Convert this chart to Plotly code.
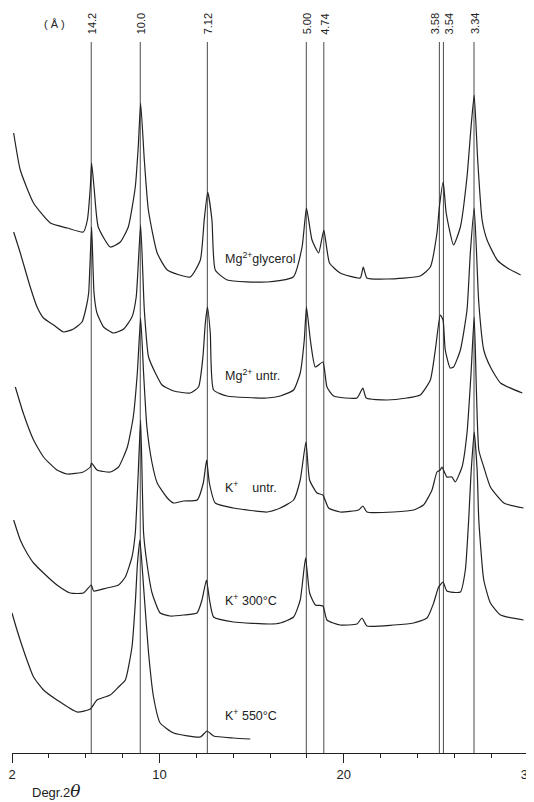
import plotly.graph_objects as go

# 2-theta positions (degrees) of the marked reflections and their d-spacing labels
line_pos = [6.30, 8.96, 12.60, 17.97, 18.92, 25.19, 25.41, 27.07]
line_labels = ["14.2", "10.0", "7.12", "5.00", "4.74", "3.58", "3.54", "3.34"]

# Series names
series_names = ["Mg<sup>2+</sup>glycerol", "Mg<sup>2+</sup> untr.",
                "K<sup>+</sup>\u00a0\u00a0\u00a0 untr.", "K<sup>+</sup> 300\u00b0C",
                "K<sup>+</sup> 550\u00b0C"]

# Traces (x: degrees 2-theta, y: intensity incl. vertical stacking offset)
mg_gly_x = [2.09, 2.45, 3.17, 4.08, 5.00, 5.87, 6.09, 6.25, 6.32, 6.45, 6.68, 7.33, 7.88,
            8.31, 8.69, 8.85, 8.98, 9.18, 9.40, 9.88, 10.43, 11.67, 12.22, 12.43, 12.62,
            12.85, 13.03, 13.68, 15.85, 17.26, 17.74, 17.98, 18.28, 18.64, 18.92, 19.23,
            19.81, 20.90, 21.06, 21.26, 22.35, 24.15, 24.70, 25.06, 25.19, 25.40, 25.56,
            25.96, 26.33, 26.69, 26.91, 27.08, 27.27, 27.51, 27.78, 28.33, 28.88, 29.60]
mg_gly_y = [620, 583, 550, 530, 525, 521, 533, 566, 590, 566, 526, 506, 511,
            526, 566, 606, 650, 593, 543, 500, 483, 476, 493, 533, 561,
            533, 483, 473, 471, 476, 506, 545, 513, 500, 523, 490,
            480, 475, 486, 475, 474, 477, 486, 520, 546, 571, 540,
            508, 526, 576, 626, 658, 593, 533, 513, 493, 485, 478]

mg_untr_x = [2.09, 2.45, 2.99, 3.36, 3.71, 4.26, 4.80, 5.34, 5.80, 6.03, 6.16, 6.32, 6.45,
             6.61, 6.97, 7.51, 8.06, 8.51, 8.74, 8.98, 9.18, 9.41, 9.78, 10.14, 10.77,
             11.67, 12.12, 12.36, 12.49, 12.61, 12.76, 12.94, 13.67, 15.84, 16.56, 17.28,
             17.64, 17.86, 17.98, 18.19, 18.46, 18.87, 19.09, 19.45, 20.72, 21.04, 21.22,
             22.35, 23.43, 24.15, 24.70, 24.97, 25.24, 25.39, 25.51, 25.78, 25.96, 26.33,
             26.69, 26.87, 27.08, 27.33, 27.60, 27.96, 28.51, 29.69]
mg_untr_y = [521, 500, 466, 446, 435, 428, 421, 424, 431, 446, 460, 526, 460,
             440, 426, 420, 424, 436, 456, 528, 443, 396, 380, 368, 362,
             360, 366, 396, 430, 446, 420, 363, 357, 355, 357, 363,
             380, 413, 446, 413, 386, 391, 366, 357, 355, 365, 355,
             353, 355, 358, 373, 403, 438, 433, 403, 385, 386, 403,
             443, 500, 545, 450, 403, 386, 370, 360]

k_untr_x = [2.18, 2.61, 3.17, 3.71, 4.44, 5.00, 5.87, 6.25, 6.32, 6.61, 7.33, 7.78, 8.26,
            8.58, 8.80, 8.98, 9.14, 9.32, 9.60, 9.88, 10.43, 10.77, 11.31, 12.05, 12.38,
            12.56, 12.71, 13.03, 14.01, 15.85, 16.56, 17.28, 17.64, 17.95, 18.15, 18.55,
            18.87, 19.18, 19.81, 20.81, 21.04, 21.26, 22.71, 23.79, 24.33, 24.79, 25.06,
            25.24, 25.33, 25.60, 25.87, 26.05, 26.42, 26.69, 26.91, 27.08, 27.33, 27.60,
            27.96, 28.69, 29.76]
k_untr_y = [366, 340, 313, 296, 283, 279, 281, 286, 290, 283, 281, 286, 306,
            336, 380, 435, 380, 326, 290, 270, 255, 250, 252, 253, 270,
            293, 270, 250, 245, 241, 245, 253, 273, 311, 273, 260,
            258, 245, 241, 243, 247, 241, 241, 243, 248, 263, 281,
            283, 286, 276, 276, 271, 286, 320, 380, 436, 303, 286,
            266, 250, 245]

k300_x = [2.09, 2.45, 2.81, 3.17, 3.71, 4.44, 5.16, 5.88, 6.30, 6.43, 7.15, 7.78, 8.15,
          8.51, 8.69, 8.85, 8.98, 9.14, 9.32, 9.60, 10.04, 10.59, 11.31, 12.04, 12.31,
          12.55, 12.72, 12.94, 14.02, 16.02, 16.56, 17.28, 17.64, 17.93, 18.15, 18.46,
          18.87, 19.09, 19.81, 20.72, 20.99, 21.26, 22.71, 23.79, 24.52, 24.88, 25.15,
          25.39, 25.60, 26.33, 26.60, 26.78, 26.91, 27.08, 27.24, 27.33, 27.60, 27.96,
          28.51, 29.76]
k300_y = [233, 213, 200, 190, 180, 168, 160, 160, 168, 162, 165, 168, 176,
          196, 220, 280, 333, 220, 190, 160, 140, 137, 138, 140, 153,
          173, 153, 136, 131, 129, 130, 136, 153, 195, 160, 148,
          147, 133, 128, 129, 135, 127, 128, 130, 135, 150, 166,
          171, 162, 161, 183, 233, 280, 321, 283, 233, 173, 150,
          138, 133]

k550_x = [2.00, 2.27, 2.81, 3.17, 3.71, 4.44, 5.53, 6.25, 6.61, 7.33, 7.78, 8.15, 8.51,
          8.69, 8.81, 8.94, 9.14, 9.41, 9.68, 10.04, 10.77, 12.22, 12.58, 12.94, 14.02,
          14.93]
k550_y = [140, 123, 93, 76, 63, 53, 41, 44, 53, 58, 66, 73, 106,
          150, 190, 213, 166, 100, 56, 30, 20, 16, 22, 17, 15,
          14]

xs = [mg_gly_x, mg_untr_x, k_untr_x, k300_x, k550_x]
ys = [mg_gly_y, mg_untr_y, k_untr_y, k300_y, k550_y]
label_y = [495, 378, 266, 153, 38]
label_shift = [0, 0, 0, 0, 0, -5, 5, 0]

LINE_TOP = 711
FONT = "Liberation Sans, Arial, Helvetica, sans-serif"

fig = go.Figure()

for v in line_pos:
    fig.add_trace(go.Scatter(x=[v, v], y=[0, LINE_TOP], mode="lines",
                             line=dict(color="#4a4a4a", width=1), hoverinfo="skip",
                             showlegend=False))

for x, y in zip(xs, ys):
    fig.add_trace(go.Scatter(x=x, y=y, mode="lines",
                             line=dict(color="#222222", width=1.2, shape="spline",
                                       smoothing=0.5),
                             showlegend=False))

for v, t, s in zip(line_pos, line_labels, label_shift):
    fig.add_annotation(x=v, y=729, text=t, textangle=-90, showarrow=False, xshift=s + 1,
                       font=dict(family=FONT, size=11, color="#222"))

fig.add_annotation(x=4.33, y=729, text="( Å )", showarrow=False,
                   font=dict(family=FONT, size=11, color="#222"))

for name, ly in zip(series_names, label_y):
    fig.add_annotation(x=13.47, y=ly, text=name, showarrow=False, xanchor="left",
                       font=dict(family=FONT, size=12.5, color="#222"))

fig.add_annotation(xref="paper", yref="paper", x=0.0355, y=-0.051, xanchor="left",
                   yanchor="middle",
                   text="Degr.2<i><span style='font-size:17px;font-family:DejaVu Serif'>θ</span></i>",
                   showarrow=False, font=dict(family=FONT, size=13, color="#222"))

fig.update_layout(
    width=526, height=794,
    margin=dict(l=4, r=6, t=0, b=49, autoexpand=False),
    paper_bgcolor="white", plot_bgcolor="white",
    font=dict(family=FONT, color="#222"),
    xaxis=dict(range=[2, 30], showgrid=False, zeroline=False, showline=True,
               automargin=False, ticklabeloverflow="allow",
               linecolor="#222", linewidth=1, ticks="outside", ticklen=9,
               tickcolor="#222", tickmode="array", tickvals=[2, 10, 20, 30],
               ticktext=["2", "10", "20", "30"], tickfont=dict(size=13, family=FONT),
               minor=dict(tickmode="linear", tick0=2, dtick=2, ticks="outside",
                          ticklen=4, tickcolor="#222")),
    yaxis=dict(range=[0, 745], visible=False, fixedrange=True, automargin=False),
)

fig.write_html("out.html")
